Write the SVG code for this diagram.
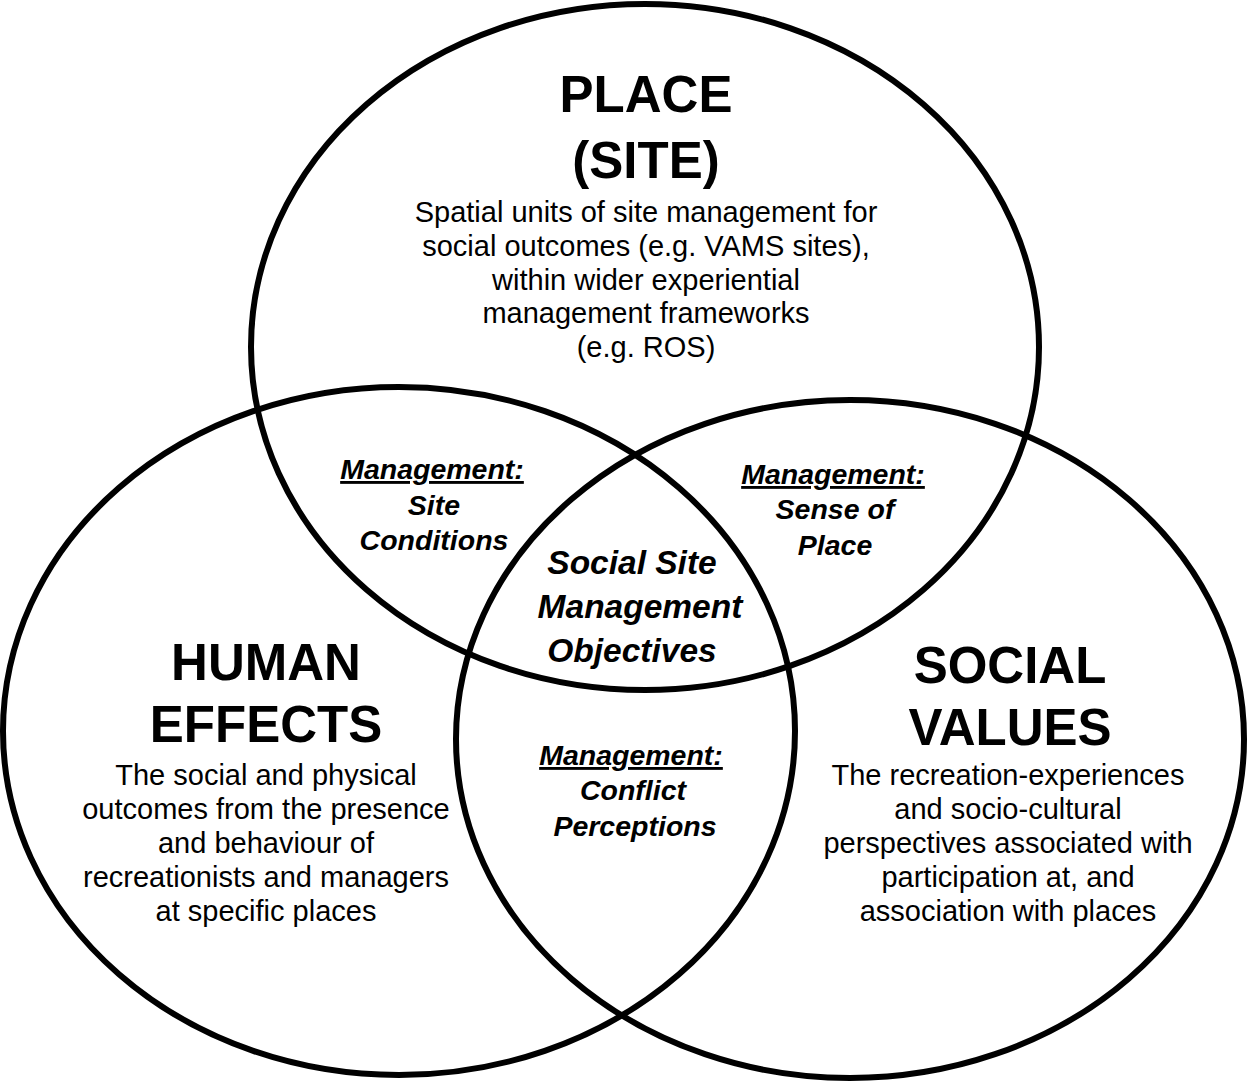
<svg xmlns="http://www.w3.org/2000/svg" width="1250" height="1082" viewBox="0 0 1250 1082">
<style>
.ring{fill:none;stroke:#000;stroke-width:6}
text{font-family:"Liberation Sans",Arial,sans-serif;fill:#000;text-anchor:middle}
.title{font-size:51px;font-weight:bold}
.body{font-size:29px}
.lab{font-size:28.5px;font-weight:bold;font-style:italic}
.big{font-size:33.5px;font-weight:bold;font-style:italic}
.u{text-decoration:underline}
</style>
<rect width="1250" height="1082" fill="#fff"/>
<g id="connectors"></g>
<g id="place">
<ellipse class="ring" cx="645" cy="347" rx="394" ry="343"/>
<text class="title" x="646" y="112">PLACE</text>
<text class="title" x="646" y="178">(SITE)</text>
<text class="body" x="646" y="222">Spatial units of site management for</text>
<text class="body" x="646" y="256">social outcomes (e.g. VAMS sites),</text>
<text class="body" x="646" y="290">within wider experiential</text>
<text class="body" x="646" y="323">management frameworks</text>
<text class="body" x="646" y="357">(e.g. ROS)</text>
</g>
<g id="human-effects">
<ellipse class="ring" cx="399" cy="731" rx="396" ry="344"/>
<text class="title" x="266" y="680">HUMAN</text>
<text class="title" x="266" y="742">EFFECTS</text>
<text class="body" x="266" y="785">The social and physical</text>
<text class="body" x="266" y="819">outcomes from the presence</text>
<text class="body" x="266" y="853">and behaviour of</text>
<text class="body" x="266" y="887">recreationists and managers</text>
<text class="body" x="266" y="921">at specific places</text>
</g>
<g id="social-values">
<ellipse class="ring" cx="850" cy="739" rx="394" ry="339"/>
<text class="title" x="1010" y="683">SOCIAL</text>
<text class="title" x="1010" y="745">VALUES</text>
<text class="body" x="1008" y="785">The recreation-experiences</text>
<text class="body" x="1008" y="819">and socio-cultural</text>
<text class="body" x="1008" y="853">perspectives associated with</text>
<text class="body" x="1008" y="887">participation at, and</text>
<text class="body" x="1008" y="921">association with places</text>
</g>
<g id="site-conditions">
<text class="lab u" x="432" y="479">Management:</text>
<text class="lab" x="434" y="515">Site</text>
<text class="lab" x="434" y="550">Conditions</text>
</g>
<g id="sense-of-place">
<text class="lab u" x="833" y="484">Management:</text>
<text class="lab" x="835" y="519">Sense of</text>
<text class="lab" x="835" y="555">Place</text>
</g>
<g id="objectives">
<text class="big" x="632" y="574">Social Site</text>
<text class="big" x="640" y="618">Management</text>
<text class="big" x="632" y="662">Objectives</text>
</g>
<g id="conflict-perceptions">
<text class="lab u" x="631" y="765">Management:</text>
<text class="lab" x="633" y="800">Conflict</text>
<text class="lab" x="635" y="836">Perceptions</text>
</g>
</svg>
